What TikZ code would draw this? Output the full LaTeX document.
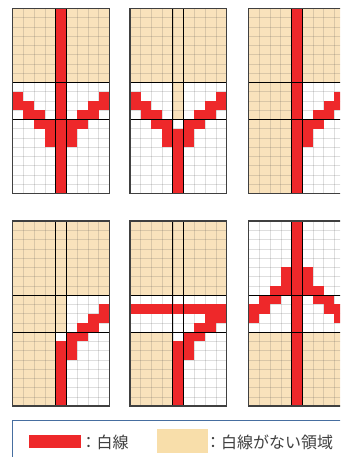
\documentclass[tikz,border=0pt]{standalone}
\usepackage{fontspec}
\newfontfamily\jpfont{Noto Sans CJK JP}
\definecolor{wred}{RGB}{238,40,42}
\definecolor{wtan}{RGB}{249,226,188}
\definecolor{ltan}{RGB}{248,222,170}
\definecolor{lborder}{RGB}{70,110,160}
\definecolor{txt}{RGB}{64,64,64}
\tikzset{
  tanfill/.style={fill=wtan},
  redfill/.style={fill=wred},
  gridline/.style={draw=black!70, line width=0.5pt, opacity=0.18},
  thickline/.style={draw=black, line width=0.9pt},
  frame/.style={draw=black!75, line width=1.2pt},
  legendtext/.style={anchor=west, inner sep=0pt, text=txt, font=\jpfont\fontsize{16}{16}\selectfont},
}
\newcommand\rc[3]{\fill[redfill] (#1,#2) rectangle ({#1+1},{#3+1});}
\newcommand\tr[4]{\fill[tanfill] (#1,#2) rectangle (#3,#4);}
\newcommand\stairL{\rc{0}{9}{10}\rc{1}{10}{11}\rc{2}{11}{12}\rc{3}{12}{14}}
\newcommand\stairR{\rc{8}{9}{10}\rc{7}{10}{11}\rc{6}{11}{12}\rc{5}{12}{14}}
\newcommand\stairUL{\rc{0}{9}{10}\rc{1}{8}{9}\rc{2}{7}{8}\rc{3}{5}{7}}
\newcommand\stairUR{\rc{8}{9}{10}\rc{7}{8}{9}\rc{6}{7}{8}\rc{5}{5}{7}}
\newcommand\panel[4]{%
  \begin{scope}[shift={(#1,#2)},x=10.733pt,y=-9.25pt]
    #3
    \foreach \i in {1,...,8} \draw[gridline] (\i,0) -- (\i,20);
    \foreach \j in {1,...,19} \draw[gridline] (0,\j) -- (9,\j);
    #4
    \draw[thickline] (4,0) -- (4,20) (5,0) -- (5,20) (0,8) -- (9,8) (0,12) -- (9,12);
    \draw[frame] (0,0) rectangle (9,20);
  \end{scope}}
\begin{document}
\begin{tikzpicture}[x=1pt,y=-1pt]
\useasboundingbox (0,0) rectangle (340,457);
\clip (0,0) rectangle (340,457);
\fill[white] (0,0) rectangle (340,457);
% panel 1
\panel{12.7}{8.3}{\tr{0}{0}{4}{8}\tr{5}{0}{9}{8}}{\rc{4}{0}{19}\stairL\stairR}
% panel 2
\panel{130}{8.3}{\tr{0}{0}{9}{8}\tr{4}{8}{5}{12}}{\rc{4}{13}{19}\stairL\stairR}
% panel 3
\panel{248.4}{8.3}{\tr{0}{0}{4}{20}\tr{5}{0}{9}{8}}{\rc{4}{0}{19}\stairR}
% panel 4
\panel{12.7}{221}{\tr{0}{0}{4}{20}\tr{4}{0}{5}{12}\tr{5}{0}{9}{8}}{\rc{4}{13}{19}\stairR}
% panel 5
\panel{130}{221}{\tr{0}{0}{9}{8}\tr{0}{12}{4}{20}}{\rc{4}{13}{19}\fill[redfill] (0,9) rectangle (9,10);\stairR}
% panel 6
\panel{248.6}{221}{\tr{0}{12}{4}{20}\tr{5}{12}{9}{20}}{\rc{4}{0}{19}\stairUL\stairUR}
% legend
\draw[draw=lborder, line width=0.8pt] (12.7,470) -- (12.7,420.3) -- (350,420.3);
\fill[wred] (29.3,435) rectangle (80.7,448.3);
\node[legendtext] (l1) at (80.5,442) {：白線};
\fill[ltan] (156.7,429) rectangle (208.3,452.7);
\node[legendtext] (l2) at (205,442) {：白線がない領域};
\end{tikzpicture}
\end{document}
